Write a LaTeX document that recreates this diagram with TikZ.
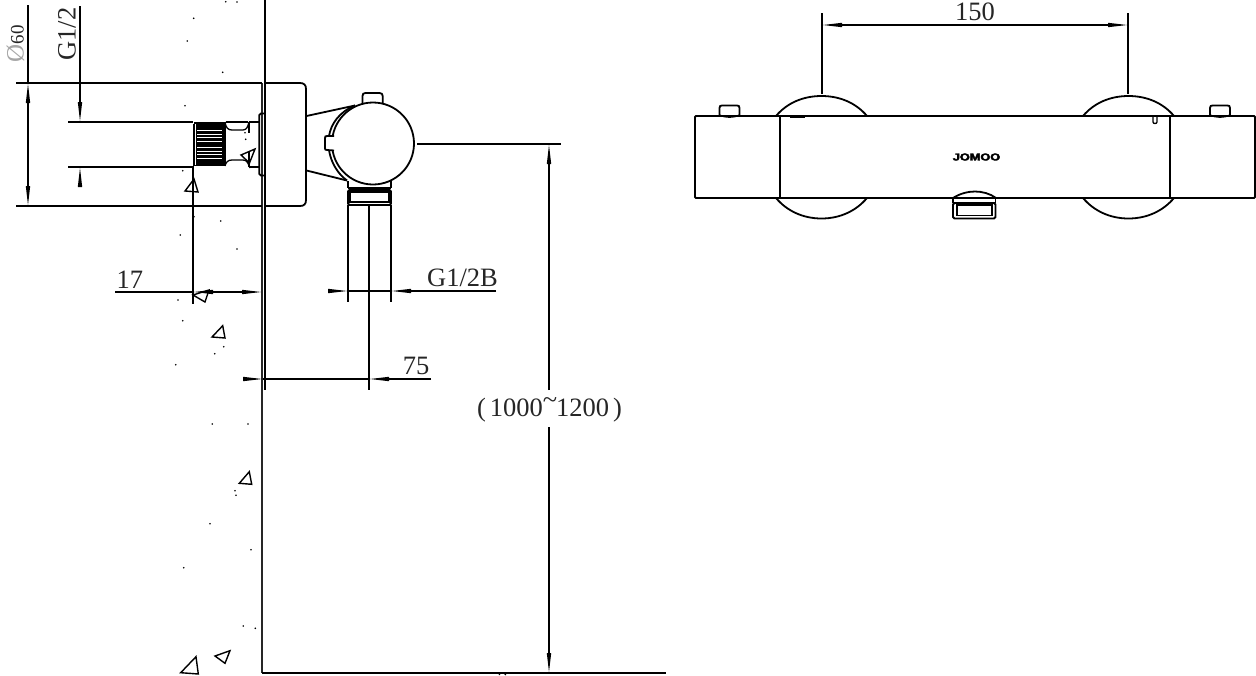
\documentclass[tikz,border=0pt]{standalone}
\usepackage{fontspec}
\setmainfont{Liberation Serif}
\newfontfamily\logofont[BoldFeatures={FakeBold=3.5}]{Liberation Sans}
\usetikzlibrary{arrows.meta}
\tikzset{
  x=1pt,y=-1pt,
  ln/.style={line width=1.8pt,black},
  thk/.style={line width=2.4pt,black},
  thn/.style={line width=1.3pt,black},
  hatchmark/.style={line width=1.4pt,black,line join=miter},
  dimtip/.style={line width=1.4pt,black},
  both/.style={dimtip,{Triangle[length=20pt,width=4pt]}-{Triangle[length=20pt,width=4pt]}},
  tipend/.style={dimtip,-{Triangle[length=20pt,width=4pt]}},
  txt/.style={inner sep=0pt,font=\fontsize{26.5}{26.5}\selectfont,text=black!85},
}
\newcommand{\speck}[1]{\fill[black] (#1) circle[radius=0.9];}
\begin{document}
\begin{tikzpicture}
\useasboundingbox (0,0) rectangle (1256,675);
% ---------- named ends
\coordinate (wallT) at (265,0);
\coordinate (wallB) at (265,390);
\coordinate (wall2T) at (262,83);
\coordinate (floorC) at (262,673);
\coordinate (floorE) at (666,673);
% wall and floor
\draw[ln] (wallT) -- (wallB);
\draw[line width=1.5pt,black!85] (wall2T) -- (floorC);
\draw[ln] (floorC) -- (floorE);
% body
\draw[ln] (16,83) -- (262,83);
\draw[ln] (16,206) -- (262,206);
\draw[ln] (265,83) -- (300,83) .. controls (304,83) and (306,85) .. (306,89) -- (306,200) .. controls (306,204) and (304,206) .. (300,206) -- (265,206);
% pipe
\draw[ln] (68,122) -- (193,122);
\draw[ln] (68,167) -- (193,167);
\draw[ln] (249,122) -- (259,122);
\draw[ln] (249,167) -- (259,167);
% knurl
\fill[black] (194,122) rectangle (223.5,166);
\foreach \yy in {130.5,134,137.5,141,147.5,151,154.5,158}{\draw[white,line width=0.9pt] (197,\yy) -- (222,\yy);}
\draw[white,line width=1pt] (195.6,124) -- (195.6,165);
\draw[ln] (193.5,124) -- (193.5,167);
% groove
\draw[thn] (225,122) .. controls (226,128) and (228,130) .. (232,130) -- (243,130) .. controls (247,130) and (248,126) .. (249,122);
\draw[thn] (225,166) .. controls (226,162) and (228,160) .. (232,160) -- (243,160) .. controls (247,160) and (248,163) .. (250,168);
\draw[thn] (225,122) -- (225,166);
\draw[thn] (226,122) -- (248,122);
\draw[thn] (249,122) -- (249,133);
\draw[thn] (249,152) -- (249,167);
\draw[ln] (265,113.5) -- (261,113.5) .. controls (259.8,113.5) and (259.3,114) .. (259.3,115) -- (259.3,174) .. controls (259.3,175) and (259.8,175.5) .. (261,175.5) -- (265,175.5);
% valve
\draw[ln] (306.5,116) -- (355,105.5);
\draw[ln] (306.5,170.5) -- (347,180.5);
\draw[ln] (355,105.5) .. controls (339,112) and (331,124) .. (329,136);
\draw[ln] (329,150) .. controls (331,163) and (338,174) .. (347,180.5);
\draw[ln] (373,143.5) circle[radius=41];
\draw[ln,fill=white] (334,136) -- (327,136) .. controls (325.5,136) and (325,136.5) .. (325,138) -- (325,148.5) .. controls (325,149.5) and (325.5,150) .. (327,150) -- (334,150.5);
\draw[white,line width=3pt] (334.2,137.5) -- (334.2,149);
\draw[ln] (362.5,103) -- (362.5,96) .. controls (362.5,94) and (363.5,93) .. (365.5,93) -- (379.5,93) .. controls (381.5,93) and (382.7,94) .. (382.7,96) -- (382.7,103);
% nut
\draw[ln] (348,181) -- (348,188);
\draw[ln] (391,181) -- (391,188);
\draw[ln] (348,188) -- (391,188);
\draw[line width=1.8pt,rounded corners=1.5pt] (348,190) rectangle (391,205);
\draw[thn] (350,192) rectangle (389,202);
% extension lines
\draw[thn] (348,205) -- (348,302);
\draw[thn] (391,205) -- (391,302);
\draw[thn] (369,206) -- (369,390);
\draw[thn] (193,167) -- (193,304);
\draw[ln] (417,144) -- (561,144);
% dimension Ø60
\coordinate (dA) at (28,5);
\coordinate (dB) at (28,83);
\coordinate (dC) at (28,206);
\draw[thn] (dA) -- (dB);
\draw[both] (dB) -- (dC);
\node[txt,rotate=90,font=\fontsize{19}{19}\selectfont,anchor=east] (dia) at (15.5,25) {{\color{black!35}\fontsize{25}{25}\selectfont Ø}60};
% dimension G1/2
\coordinate (gA) at (80,6);
\coordinate (gB) at (80,122);
\coordinate (gC) at (80,167);
\coordinate (gD) at (80,186);
\draw[tipend] (gA) -- (gB);
\draw[tipend] (gD) -- (gC);
\node[txt,rotate=90] (gtxt) at (67,34) {G1/2};
% dimension 17
\coordinate (sA) at (115,292);
\coordinate (sB) at (193,292);
\coordinate (sC) at (262,292);
\draw[thn] (sA) -- (sB);
\draw[both] (sB) -- (sC);
\node[txt,anchor=base west] (seventeen) at (116.5,288.5) {17};
% dimension G1/2B
\coordinate (hA) at (328,291);
\coordinate (hB) at (348,291);
\coordinate (hC) at (391,291);
\coordinate (hD) at (496,291);
\draw[tipend] (hA) -- (hB);
\draw[tipend] (hD) -- (hC);
\draw[thn] (hB) -- (hC);
\node[txt,anchor=base] (gb) at (462.5,286.5) {G1/2B};
% dimension 75
\coordinate (vA) at (244,379);
\coordinate (vB) at (263,379);
\coordinate (vC) at (369,379);
\coordinate (vD) at (431,379);
\draw[tipend] (vA) -- (vB);
\draw[tipend] (vD) -- (vC);
\draw[thn] (vB) -- (vC);
\node[txt,anchor=base] (seventyfive) at (416,374.5) {75};
% dimension 1000~1200
\coordinate (mA) at (549,144);
\coordinate (mB) at (549,390);
\coordinate (mC) at (549,427);
\coordinate (mD) at (549,673);
\draw[tipend] (mB) -- (mA);
\draw[tipend] (mC) -- (mD);
\node[txt,anchor=base] (range) at (549.5,416.5) {(\hspace{4pt}1000\hspace{0pt}\raisebox{8pt}{\char"7E}\hspace{-1pt}1200\hspace{4pt})};
% hatch triangles
\draw[hatchmark] (194,179) -- (185,191) -- (198,192) -- cycle;
\draw[hatchmark] (255,149) -- (241,155) -- (249.5,163) -- cycle;
\draw[hatchmark] (209,290) -- (193,295) -- (205,302) -- cycle;
\draw[hatchmark] (222.7,325.7) -- (212,337) -- (225,338) -- cycle;
\draw[hatchmark] (249.3,471.7) -- (239.3,483.3) -- (251.7,484.3) -- cycle;
\draw[hatchmark] (230,650.7) -- (215,656) -- (225,663.3) -- cycle;
\draw[hatchmark] (196,656.7) -- (180.7,672.7) -- (198.3,674) -- cycle;
% specks
\foreach \a/\b in {225.7/1.7,237/2,193.7/18.3,187.3/41,222.7/72.3,185/105.7,182.7/170.7,245/132.7,245.7/139.3,194/216.7,220.7/221,180.3/235,237/249,178/300,182.7/320.7,223.7/346.7,214.7/353.7,175.7/364.7,244/379,212.3/424,248/424,235/490.7,236/495.3,210/523.7,251/549.7,183.7/567.7,243.3/626,255.3/628.3}{\speck{\a,\b}}
\draw[line width=1pt] (499,675) -- (501,672.5) (503,672.5) -- (506,675);
% ---------- right view
\draw[ln,rounded corners=1pt] (695,116) rectangle (1255,198);
\draw[thk] (780,116) -- (780,198);
\draw[thk] (1170,116) -- (1170,198);
% domes
\draw[ln] (776,116) .. controls (787,103) and (803,96) .. (821.5,96) .. controls (840,96) and (856,103) .. (867,116);
\draw[ln] (776,198) .. controls (787,211) and (803,218.5) .. (821.5,218.5) .. controls (840,218.5) and (856,211) .. (867,198);
\draw[ln] (1083,116) .. controls (1094,103) and (1110,96) .. (1128.5,96) .. controls (1147,96) and (1163,103) .. (1174,116);
\draw[ln] (1083,198) .. controls (1094,211) and (1110,218.5) .. (1128.5,218.5) .. controls (1147,218.5) and (1163,211) .. (1174,198);
% bumps
\draw[ln] (719.5,116) -- (719.5,108) .. controls (719.5,106) and (720.5,105.5) .. (722,105.5) -- (737,105.5) .. controls (738.5,105.5) and (739.5,106) .. (739.5,108) -- (739.5,116);
\draw[thn] (719.5,115) .. controls (725,118) and (734,118) .. (739.5,115);
\draw[ln] (1210,116) -- (1210,108) .. controls (1210,106) and (1211,105.5) .. (1212.5,105.5) -- (1227.5,105.5) .. controls (1229,105.5) and (1230,106) .. (1230,108) -- (1230,116);
\draw[thn] (1210,115) .. controls (1216,118) and (1224,118) .. (1230,115);
% small details
\draw[line width=1.4pt] (790,117) -- (805,117);
\draw[line width=1.3pt] (1153,117) -- (1153,122) .. controls (1153,124) and (1157,124) .. (1157,122) -- (1157,117);
\draw[line width=1pt] (1148,116.8) -- (1160,116.8);
\node[inner sep=0pt,font=\logofont\bfseries\fontsize{10}{10}\selectfont] (logo) at (976.5,157) {\scalebox{1.27}[1]{JOMOO}};
% spout on the right view
\draw[ln] (953,198) .. controls (960,193.5) and (968,191.5) .. (975,191.5) .. controls (982,191.5) and (990,193.5) .. (996,198);
\draw[thn] (953,198) -- (953,203);
\draw[thn] (995.5,198) -- (995.5,203);
\draw[ln] (953,202.5) -- (995.5,202.5);
\draw[line width=1.8pt,rounded corners=1.5pt] (953,203) rectangle (995.5,218.5);
\draw[thn] (957,205) rectangle (992,215.5);
% dimension 150
\coordinate (tL) at (822,13);
\coordinate (tR) at (1128,13);
\coordinate (tLb) at (822,94);
\coordinate (tRb) at (1128,94);
\coordinate (tLm) at (822,25);
\coordinate (tRm) at (1128,25);
\draw[thn] (tL) -- (tLb);
\draw[ln] (tR) -- (tRb);
\draw[both] (tLm) -- (tRm);
\node[txt,anchor=base] (oneFifty) at (975,20.5) {150};
\end{tikzpicture}
\end{document}
